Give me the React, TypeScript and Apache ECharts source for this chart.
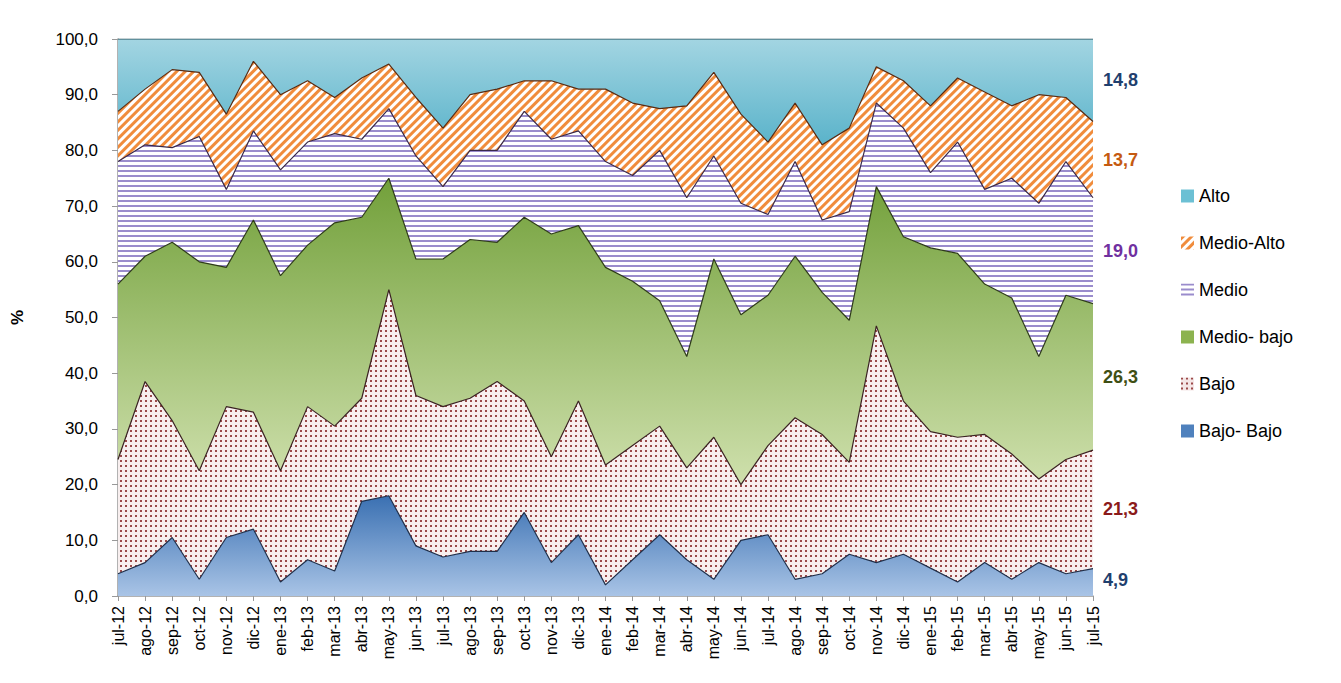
import React, { useEffect, useRef } from "react";
import * as echarts from "echarts";

const categories = ["jul-12","ago-12","sep-12","oct-12","nov-12","dic-12","ene-13","feb-13","mar-13","abr-13","may-13","jun-13","jul-13","ago-13","sep-13","oct-13","nov-13","dic-13","ene-14","feb-14","mar-14","abr-14","may-14","jun-14","jul-14","ago-14","sep-14","oct-14","nov-14","dic-14","ene-15","feb-15","mar-15","abr-15","may-15","jun-15","jul-15"];
const bajoBajo = [4,6,10.5,3,10.5,12,2.5,6.5,4.5,17,18,9,7,8,8,15,6,11,2,6.5,11,6.5,3,10,11,3,4,7.5,6,7.5,5,2.5,6,3,6,4,4.9];
const bajo = [20.5,32.5,21,19.5,23.5,21,20,27.5,26,18.5,37,27,27,27.5,30.5,20,19,24,21.5,20.5,19.5,16.5,25.5,10,16,29,25,16.5,42.5,27.5,24.5,26,23,22.5,15,20.5,21.3];
const medioBajo = [31.5,22.5,32,37.5,25,34.5,35,29,36.5,32.5,20,24.5,26.5,28.5,25,33,40,31.5,35.5,29.5,22.5,20,32,30.5,27,29,25.5,25.5,25,29.5,33,33,27,28,22,29.5,26.3];
const medio = [22,20,17,22.5,14,16,19,18.5,16,14,12.5,18.5,13,16,16.5,19,17,17,19,19,27,28.5,18.5,20,14.5,17,13,19.5,15,19.5,13.5,20,17,21.5,27.5,24,19.0];
const medioAlto = [9,10,14,11.5,13.5,12.5,13.5,11,6.5,11,8,10.5,10.5,10,11,5.5,10.5,7.5,13,13,7.5,16.5,15,16,13,10.5,13.5,15,6.5,8.5,12,11.5,17.5,13,19.5,11.5,13.7];
const alto = [13,9,5.5,6,13.5,4,10,7.5,10.5,7,4.5,10.5,16,10,9,7.5,7.5,9,9,11.5,12.5,12,6,13.5,18.5,11.5,19,16,5,7.5,12,7,9.5,12,10,10.5,14.8];
const legendOrder = ["Alto","Medio-Alto","Medio","Medio- bajo","Bajo","Bajo- Bajo"];

const grad = (top: string, bottom: string) =>
  new echarts.graphic.LinearGradient(0, 0, 0, 1, [
    { offset: 0, color: top },
    { offset: 1, color: bottom },
  ]);

export default function App() {
  const ref = useRef<HTMLDivElement>(null);
  useEffect(() => {
    document.body.style.margin = "0";
    const chart = echarts.init(ref.current!, undefined, { renderer: "svg" });
    const mk = (name: string, data: number[], color: string, area: any, lineColor: string, decal?: any) => ({
      name, type: "line", stack: "t", data, symbol: "none",
      lineStyle: { color: lineColor, width: 1.2 },
      itemStyle: decal ? { color, decal } : { color },
      areaStyle: { color: area, opacity: 1 },
    });
    const series = [
      mk("Bajo- Bajo", bajoBajo, "#4f81bd", grad("#3a70b2", "#a9c4e6"), "#1f2f4a"),
      mk("Bajo", bajo, "#f4e6e6", "#f8efef", "#3a2222", { symbol: "rect", symbolSize: 1, dashArrayX: [1.5, 2.5], dashArrayY: [1.5, 2.5], color: "#9b4a4a" }),
      mk("Medio- bajo", medioBajo, "#8cb34f", grad("#72a03a", "#cfe0ad"), "#2d3a18"),
      mk("Medio", medio, "#ffffff", "#ffffff", "#3a2a4a", { symbol: "rect", symbolSize: 1, dashArrayX: [1, 0], dashArrayY: [2, 2.5], rotation: 0, color: "#9a8ccc" }),
      mk("Medio-Alto", medioAlto, "#ffffff", "#ffffff", "#5a2a10", { symbol: "rect", symbolSize: 1, dashArrayX: [1, 0], dashArrayY: [3, 3], rotation: -Math.PI / 4, color: "#f08c3c" }),
      mk("Alto", alto, "#6cc0d4", grad("#a3d5e2", "#5ab3ca"), "#1f4e5a"),
    ];
    const font = "Liberation Sans";
    chart.setOption({
      animation: false,
      grid: { left: 118, right: 248, top: 39, bottom: 87 },
      xAxis: {
        type: "category", data: categories, boundaryGap: false,
        axisLine: { lineStyle: { color: "#999", width: 1.5 } },
        axisTick: { show: true, alignWithLabel: true, lineStyle: { color: "#999" } },
        axisLabel: { rotate: 90, color: "#000", fontSize: 16, fontFamily: font, interval: 0, margin: 10 },
      },
      yAxis: {
        type: "value", min: 0, max: 100, interval: 10,
        name: "%", nameLocation: "middle", nameGap: 92, nameRotate: 90,
        nameTextStyle: { fontWeight: "bold", fontSize: 17, color: "#000", fontFamily: font },
        axisLine: { show: true, lineStyle: { color: "#999", width: 1.5 } },
        axisTick: { show: true, length: 6, lineStyle: { color: "#999" } },
        splitLine: { show: false },
        axisLabel: { color: "#000", fontSize: 17, fontFamily: font, margin: 20, formatter: (v: number) => v.toFixed(1).replace(".", ",") },
      },
      legend: {
        orient: "vertical", left: 1176, top: 182, itemGap: 29,
        itemWidth: 13, itemHeight: 13, icon: "rect",
        data: legendOrder,
        textStyle: { fontSize: 18, color: "#000", fontFamily: font },
      },
      series,
    });
    const arrays = [bajoBajo, bajo, medioBajo, medio, medioAlto, alto];
    const colors = ["#1f3f6e", "#8b1a1a", "#3f4f14", "#7030a0", "#c55a11", "#1f3f6e"];
    const last = categories.length - 1;
    let cum = 0;
    const texts = arrays.map((a, i) => {
      const v = a[last];
      const mid = cum + v / 2;
      cum += v;
      const p = chart.convertToPixel({ xAxisIndex: 0, yAxisIndex: 0 }, [last, mid]) as number[];
      return {
        type: "text", x: p[0] + 10, y: p[1] + (i === 0 ? -2 : 0),
        style: { text: v.toFixed(1).replace(".", ","), fill: colors[i], font: "bold 18px 'Liberation Sans'", textVerticalAlign: "middle" },
      };
    });
    chart.setOption({ graphic: texts });
    return () => chart.dispose();
  }, []);
  return <div ref={ref} style={{ width: 1341, height: 683 }} />;
}
